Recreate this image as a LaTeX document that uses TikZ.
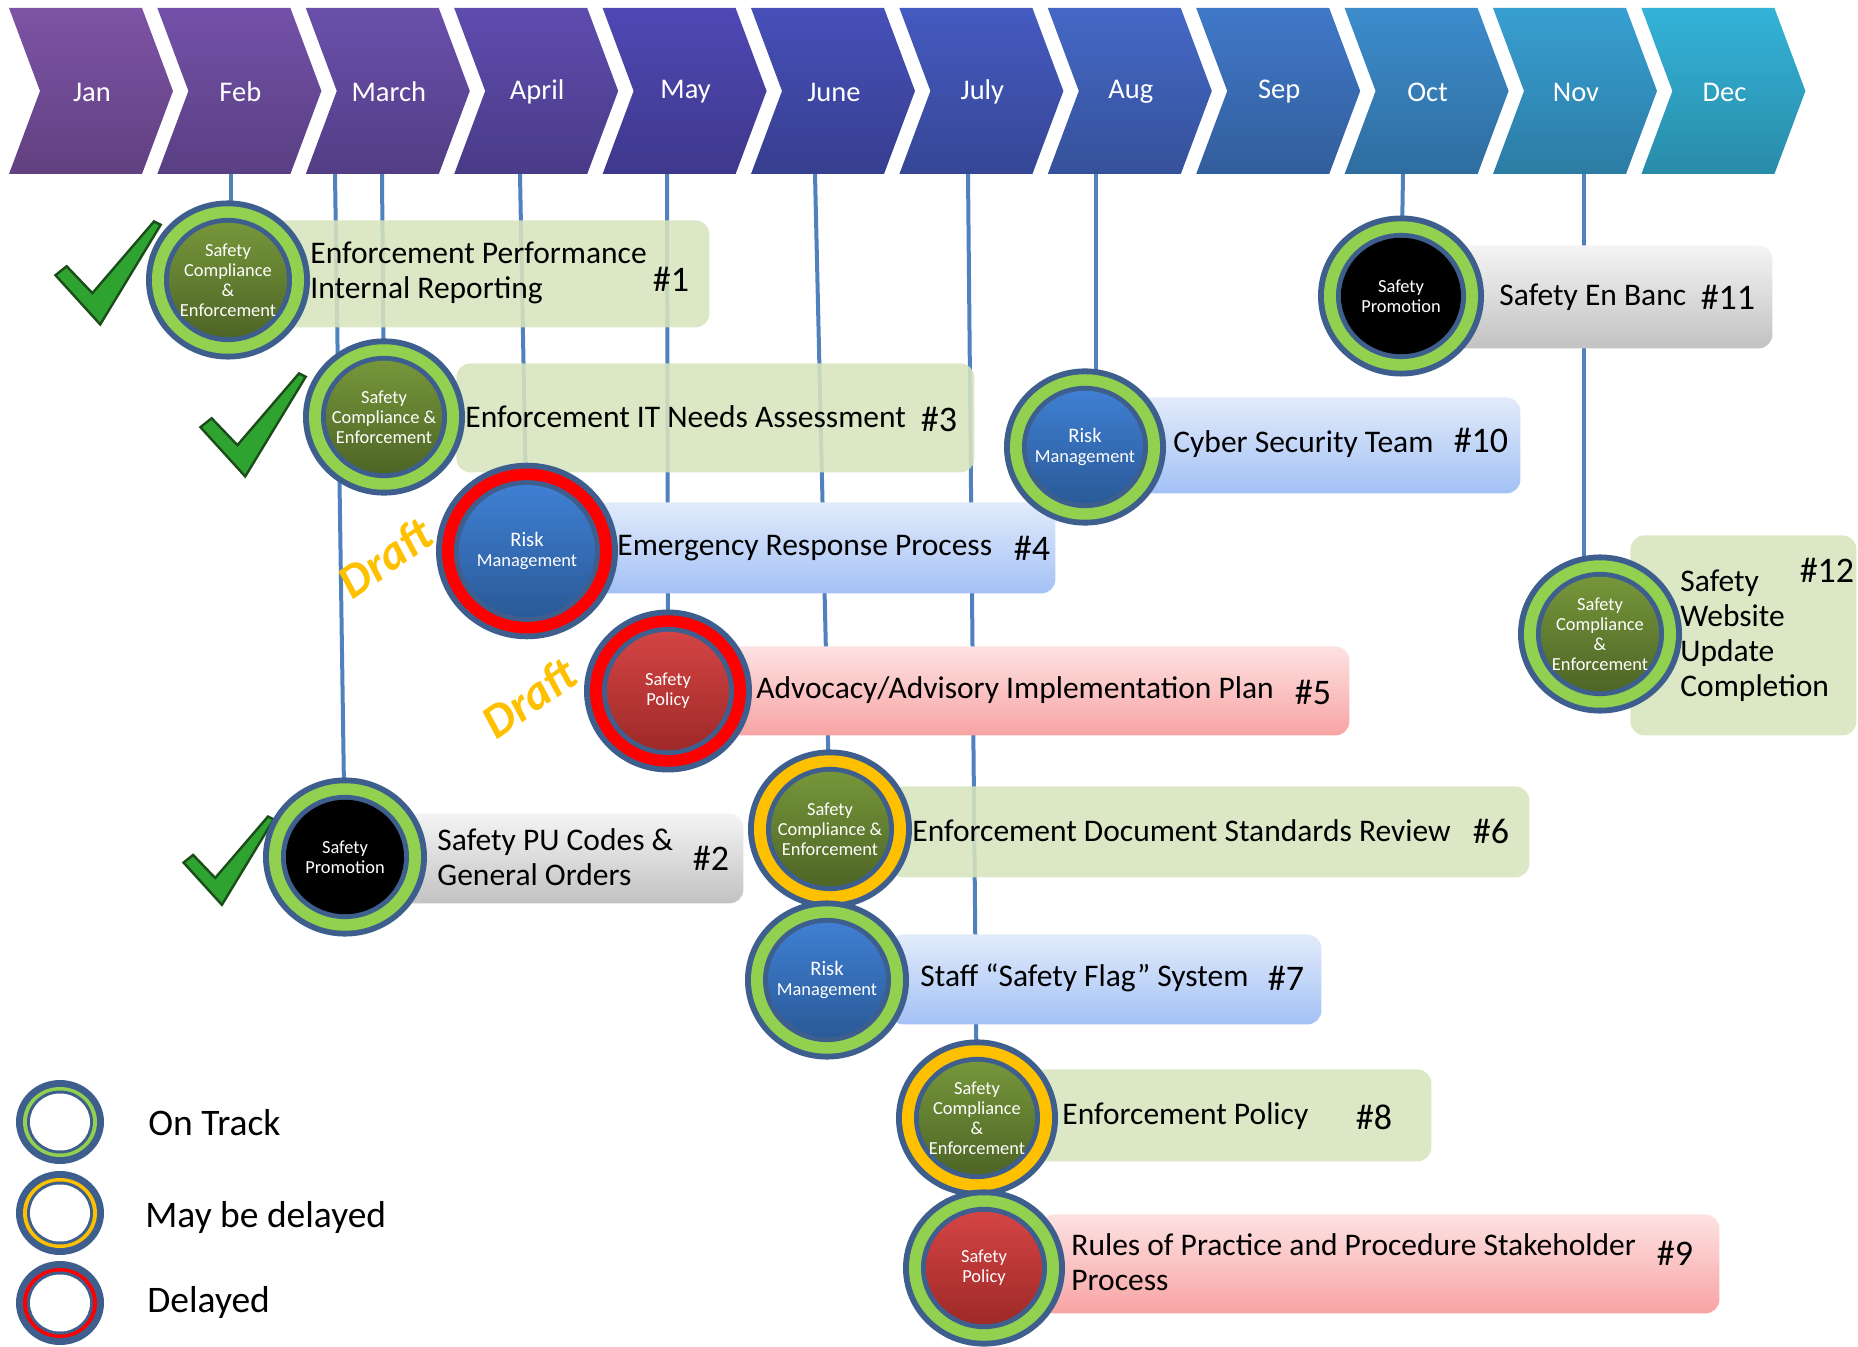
\documentclass[tikz,border=0pt]{standalone}
\usepackage{fontspec}
\setmainfont{Carlito}
\usetikzlibrary{shapes.geometric}
\definecolor{ringblue}{HTML}{3E5F8E}
\definecolor{ringgreen}{HTML}{92D050}
\definecolor{ringyellow}{HTML}{FFC000}
\definecolor{ringred}{HTML}{FF0000}
\definecolor{vlineblue}{HTML}{4F81BD}
\definecolor{boxgreen}{HTML}{D7E4BD}
\definecolor{boxblueT}{HTML}{E2EBFB}
\definecolor{boxblueB}{HTML}{A3C1F5}
\definecolor{boxpinkT}{HTML}{FDE2E2}
\definecolor{boxpinkB}{HTML}{F8A3A3}
\definecolor{boxgreyT}{HTML}{F4F4F4}
\definecolor{boxgreyB}{HTML}{C2C2C2}
\definecolor{sceT}{HTML}{76963A}
\definecolor{sceB}{HTML}{4E6526}
\definecolor{rmT}{HTML}{3F7FD2}
\definecolor{rmB}{HTML}{2A5A98}
\definecolor{spT}{HTML}{D44444}
\definecolor{spB}{HTML}{9E2A28}
\definecolor{checkgreen}{HTML}{2FA32F}
\definecolor{checkdark}{HTML}{1B4D1B}
\definecolor{draftgold}{HTML}{FFC000}
\pgfdeclarelayer{bg}
\pgfsetlayers{bg,main}
% status circle: name, x, y, R, ring colour, top, bottom, text
\newcommand{\stcircle}[8]{%
  \node[ellipse, inner sep=0pt, minimum width={#4*1pt}, minimum height={#4*0.97pt}, fill=ringblue] (#1) at (#2,#3) {};
  \fill[#5] (#1.center) ellipse [x radius={#4-6}, y radius={0.97*(#4-6)}];
  \fill[ringblue] (#1.center) ellipse [x radius={#4-18}, y radius={0.97*(#4-18)}];
  \shade[top color=#6, bottom color=#7] (#1.center) ellipse [x radius={#4-23}, y radius={0.97*(#4-23)}];
  \node[circtext] (#1t) at (#1.center) {#8};
}
\newcommand{\legcirc}[3]{%
  \node[ellipse, inner sep=0pt, minimum width=44pt, minimum height=42pt, fill=ringblue] (#1) at (60,#2) {};
  \fill[#3] (#1.center) ellipse [x radius=37, y radius=35];
  \fill[ringblue] (#1.center) ellipse [x radius=33, y radius=31.5];
  \fill[white] (#1.center) ellipse [x radius=30, y radius=28.5];
}
\newcommand{\checkmk}[4]{%
  \coordinate (#1) at (#2,#3);
  \filldraw[checkst, shift={(#1)}, scale=#4] (-38,-40) -- (-28,-48) -- (-5,-24) -- (50,-88) -- (56,-85) -- (2,4) -- cycle;
}
\newcommand{\SCEfour}{Safety\\Compliance\\\&\\Enforcement}
\newcommand{\SCEthree}{Safety\\Compliance \&\\Enforcement}
\newcommand{\RiskM}{{\fontsize{10.3}{10.3}\selectfont Risk}\\Management}
\newcommand{\SPol}{Safety\\Policy}
\newcommand{\SProm}{Safety\\Promotion}
\begin{document}
\begin{tikzpicture}[x=0.5pt, y=-0.5pt,
  vline/.style={draw=vlineblue, line width=2pt},
  tbox/.style={rectangle, rounded corners=7pt, inner sep=0pt, anchor=north west},
  gbox/.style={tbox, fill=boxgreen, fill opacity=0.88},
  bbox/.style={tbox, top color=boxblueT, bottom color=boxblueB},
  pbox/.style={tbox, top color=boxpinkT, bottom color=boxpinkB},
  greybox/.style={tbox, top color=boxgreyT, bottom color=boxgreyB},
  lbl/.style={anchor=west, align=left, inner sep=0pt, font=\fontsize{15.75}{17.5}\selectfont},
  num/.style={inner sep=0pt, font=\fontsize{18}{20}\selectfont},
  circtext/.style={text=white, align=center, inner sep=0pt, font=\fontsize{9.2}{10}\selectfont},
  monthlbl/.style={text=white, font=\fontsize{14.25}{16}\selectfont},
  draftst/.style={text=draftgold, rotate=35, inner sep=0pt, font=\fontsize{24}{26}\selectfont\bfseries\itshape},
  legtext/.style={anchor=west, inner sep=0pt, font=\fontsize{18.75}{21}\selectfont},
  checkst/.style={fill=checkgreen, draw=checkdark, line width=1.2pt, line join=miter}
]
\useasboundingbox (0,0) rectangle (1858,1347);

% month chevrons
\foreach \c/\m [count=\i from 0] in {7D53A5/Jan,7351A8/Feb,6A4FAB/March,5E4CAE/April,4F48B4/May,4650B8/June,455AC0/July,4568C6/Aug,4078C8/Sep,3C8CCC/Oct,389FD2/Nov,34B3D8/Dec}{
  \pgfmathsetmacro{\L}{9+148.4*\i}
  \definecolor{mc}{HTML}{\c}
  \shade[top color=mc, bottom color=mc!78!black] (\L,8) -- ++(133,0) -- ++(31,83) -- ++(-31,83) -- ++(-133,0) -- ++(31,-83) -- cycle;
  \node[monthlbl] (m\i) at ({\L+83},92) {\m};
}

% line starts
\coordinate (sFeb) at (231,174);
\coordinate (sMarA) at (335,174);
\coordinate (sMarB) at (382,174);
\coordinate (sApr) at (520,174);
\coordinate (sMay) at (667,174);
\coordinate (sJun) at (815,174);
\coordinate (sJul) at (968,174);
\coordinate (sAug) at (1096,174);
\coordinate (sOct) at (1403,174);
\coordinate (sNov) at (1584,174);

% task boxes
\node[gbox, minimum width=219.5pt, minimum height=53.5pt] (b1) at (270,220) {};
\node[gbox, minimum width=259pt, minimum height=54.5pt] (b3) at (456,363) {};
\node[bbox, minimum width=230.5pt, minimum height=45.5pt] (b4) at (594,502) {};
\node[pbox, minimum width=312pt, minimum height=44.5pt] (b5) at (725,646) {};
\node[greybox, minimum width=175pt, minimum height=45pt] (b2) at (393,813) {};
\node[gbox, minimum width=320pt, minimum height=45.5pt] (b6) at (889,786) {};
\node[bbox, minimum width=216pt, minimum height=45pt] (b7) at (889,934) {};
\node[gbox, minimum width=200.5pt, minimum height=46pt] (b8) at (1030,1069) {};
\node[pbox, minimum width=339.5pt, minimum height=49.5pt] (b9) at (1040,1214) {};
\node[bbox, minimum width=200pt, minimum height=48pt] (b10) at (1120,397) {};
\node[greybox, minimum width=166pt, minimum height=51.5pt] (b11) at (1440,245) {};
\node[gbox, minimum width=113pt, minimum height=100pt] (b12) at (1630,535) {};

% box texts
\node[lbl] (t1) at (310,273) {Enforcement Performance\\Internal Reporting};
\node[num] (n1) at (671,279) {\#1};
\node[lbl] (t3) at (465,417) {Enforcement IT Needs Assessment};
\node[num] (n3) at (939,419) {\#3};
\node[lbl] (t4) at (617,548) {Emergency Response Process};
\node[num] (n4) at (1032,548) {\#4};
\node[lbl] (t5) at (756,690) {Advocacy/Advisory Implementation Plan};
\node[num] (n5) at (1313,692) {\#5};
\node[lbl] (t2) at (437,857) {Safety PU Codes \&\\General Orders};
\node[num] (n2) at (711,858) {\#2};
\node[lbl] (t6) at (912,831) {Enforcement Document Standards Review};
\node[num] (n6) at (1491,831) {\#6};
\node[lbl] (t7) at (920,978) {Staff “Safety Flag” System};
\node[num] (n7) at (1286,978) {\#7};
\node[lbl] (t8) at (1062,1116) {Enforcement Policy};
\node[num] (n8) at (1374,1117) {\#8};
\node[lbl] (t9) at (1071,1262) {Rules of Practice and Procedure Stakeholder\\Process};
\node[num] (n9) at (1675,1253) {\#9};
\node[lbl] (t10) at (1173,444) {Cyber Security Team};
\node[num] (n10) at (1481,440) {\#10};
\node[lbl] (t11) at (1499,297) {Safety En Banc};
\node[num] (n11) at (1728,297) {\#11};
\node[lbl] (t12) at (1680,636) {Safety\\Website\\Update\\Completion};
\node[num] (n12) at (1827,570) {\#12};

% check marks
\checkmk{k1}{98}{320}{1.12}
\checkmk{k2}{243}{472}{1.12}
\checkmk{k3}{220}{901}{0.96}

% status circles
\stcircle{c1}{228}{280}{82}{ringgreen}{sceT}{sceB}{\SCEfour}
\stcircle{c3}{384}{417}{81}{ringgreen}{sceT}{sceB}{\SCEthree}
\stcircle{c4}{527}{551}{91}{ringred}{rmT}{rmB}{\RiskM}
\stcircle{c5}{668}{691}{84}{ringred}{spT}{spB}{\SPol}
\stcircle{c2}{345}{857}{82}{ringgreen}{black}{black}{\SProm}
\stcircle{c6}{830}{829}{82}{ringyellow}{sceT}{sceB}{\SCEthree}
\stcircle{c7}{827}{980}{82}{ringgreen}{rmT}{rmB}{\RiskM}
\stcircle{c8}{977}{1118}{81}{ringyellow}{sceT}{sceB}{\SCEfour}
\stcircle{c9}{984}{1268}{81}{ringgreen}{spT}{spB}{\SPol}
\stcircle{c10}{1085}{447}{81}{ringgreen}{rmT}{rmB}{\RiskM}
\stcircle{c11}{1401}{296}{83}{ringgreen}{black}{black}{\SProm}
\stcircle{c12}{1600}{634}{82}{ringgreen}{sceT}{sceB}{\SCEfour}

% drafts
\node[draftst] (d1) at (385,558) {Draft};
\node[draftst] (d2) at (529,698) {Draft};

% legend
\legcirc{lg1}{1122}{ringgreen}
\legcirc{lg2}{1213}{ringyellow}
\legcirc{lg3}{1303}{ringred}
\node[legtext] (lt1) at (148,1123) {On Track};
\node[legtext] (lt2) at (145,1217) {May be delayed};
\node[legtext] (lt3) at (147,1302) {Delayed};

% connectors (behind everything)
\begin{pgfonlayer}{bg}
\draw[vline] (sFeb) -- (sFeb |- c1.center);
\draw[vline] (sMarA) -- (c2.center);
\draw[vline] (sMarB) -- (c3.center);
\draw[vline] (sApr) -- (c4.center);
\draw[vline] (sMay) -- (c5.center);
\draw[vline] (sJun) -- (c6.center);
\draw[vline] (sJul) -- (c8.center);
\draw[vline] (sAug) -- (sAug |- c10.center);
\draw[vline] (sOct) -- (c11.center);
\draw[vline] (sNov) -- (sNov |- c12.center);
\end{pgfonlayer}
\end{tikzpicture}
\end{document}
